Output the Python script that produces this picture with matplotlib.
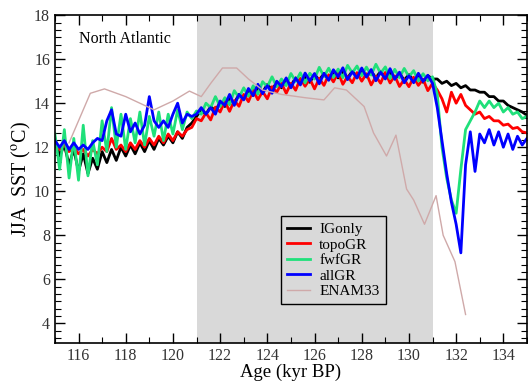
import numpy as np
import matplotlib
matplotlib.use("Agg")
import matplotlib.pyplot as plt
from matplotlib.ticker import MultipleLocator

plt.rcParams['font.family'] = ['Liberation Serif', 'DejaVu Serif']
plt.rcParams['mathtext.fontset'] = 'stix'

# model output sampled every 0.2 kyr from 115 to 135 kyr BP
age = np.round(np.arange(115.0, 135.01, 0.2), 1)

IGonly = [
    12.4, 11.6, 12.1, 11.2, 11.9, 10.9, 11.7, 10.8, 11.5, 11.0,
    11.8, 11.3, 11.9, 11.4, 12.0, 11.6, 12.1, 11.7, 12.2, 11.8,
    12.3, 11.9, 12.4, 12.1, 12.5, 12.2, 12.7, 12.4, 12.9, 13.1,
    13.4, 13.7, 13.5, 13.85, 13.65, 14.05, 13.85, 14.2, 14.0, 14.4,
    14.2, 14.55, 14.35, 14.7, 14.5, 14.85, 14.6, 14.95, 14.7, 15.05,
    14.8, 15.15, 14.9, 15.2, 14.95, 15.3, 15.05, 15.35, 15.1, 15.4,
    15.15, 15.45, 15.15, 15.45, 15.2, 15.5, 15.2, 15.45, 15.15, 15.45,
    15.15, 15.4, 15.1, 15.35, 15.05, 15.3, 15.0, 15.3, 14.95, 15.25,
    15.1,
    15.1, 14.9, 15.0, 14.8, 14.9, 14.7, 14.8, 14.6, 14.6, 14.5,
    14.5, 14.3, 14.3, 14.1, 14.1, 13.9, 13.8, 13.7, 13.6, 13.45,
]

topoGR = [
    12.2, 11.9, 12.1, 11.8, 12.0, 11.7, 11.9, 11.6, 11.9, 11.7,
    12.0, 11.8, 12.4, 11.9, 12.1, 11.8, 12.2, 11.9, 12.3, 12.0,
    12.4, 12.1, 12.5, 12.2, 12.6, 12.3, 12.7, 12.5, 12.8, 12.9,
    13.3, 13.2, 13.56, 13.24, 13.82, 13.6, 14.09, 13.63, 14.12, 13.86,
    14.4, 14.07, 14.59, 14.16, 14.53, 14.2, 14.75, 14.5, 14.9, 14.45,
    14.9, 14.59, 15.13, 14.77, 15.11, 14.65, 15.13, 14.81, 15.29, 14.97,
    15.4, 14.86, 15.22, 14.93, 15.39, 15.0, 15.34, 14.83, 15.22, 14.91,
    15.4, 14.92, 15.24, 14.76, 15.08, 14.75, 15.18, 14.81, 15.09, 14.57,
    14.9,
    14.6, 14.2, 13.6, 14.5, 14.0, 14.4, 13.9, 13.7, 13.5, 13.6,
    13.3, 13.4, 13.2, 13.2, 13.0, 13.05, 12.85, 12.9, 12.7, 12.65,
]

fwfGR = [
    12.6, 11.0, 12.8, 10.6, 12.4, 10.5, 13.0, 10.7, 12.3, 11.2,
    13.2, 11.8, 13.8, 12.0, 13.5, 11.9, 13.3, 12.2, 13.6, 12.1,
    13.4, 12.5, 13.6, 12.3, 13.5, 12.6, 13.7, 12.8, 13.6, 13.3,
    13.65, 13.5, 14.0, 13.8, 14.3, 13.85, 14.25, 13.93, 14.57, 14.26,
    14.7, 14.32, 14.79, 14.41, 14.98, 14.75, 15.2, 14.75, 15.1, 14.8,
    15.35, 14.99, 15.38, 14.92, 15.36, 15.1, 15.63, 15.21, 15.59, 15.17,
    15.55, 15.16, 15.72, 15.38, 15.69, 15.25, 15.64, 15.28, 15.77, 15.36,
    15.65, 15.12, 15.54, 15.16, 15.58, 15.2, 15.48, 15.01, 15.34, 15.02,
    15.2,
    14.4, 12.0, 10.6, 9.6, 9.0, 11.0, 12.8, 13.2, 13.6, 14.1,
    13.8, 14.1, 13.8, 14.0, 13.6, 13.8, 13.5, 13.6, 13.3, 13.4,
]

allGR = [
    12.3, 12.0, 12.3, 11.9, 12.2, 11.9, 12.1, 11.9, 12.2, 12.4,
    12.3, 13.2, 13.7, 12.6, 12.5, 13.5, 12.7, 13.1, 12.6, 13.0,
    14.3, 13.2, 12.9, 13.2, 12.9, 13.5, 14.0, 13.1, 13.5, 13.4,
    13.5, 13.8, 13.5, 13.8, 13.5, 14.1, 13.9, 14.4, 13.9, 14.4,
    14.15, 14.67, 14.34, 14.86, 14.43, 14.8, 14.45, 15.0, 14.75, 15.15,
    14.7, 15.14, 14.83, 15.37, 15.01, 15.35, 14.88, 15.36, 15.04, 15.52,
    15.2, 15.61, 15.07, 15.43, 15.14, 15.6, 15.19, 15.53, 15.02, 15.41,
    15.1, 15.57, 15.09, 15.41, 14.93, 15.25, 14.93, 15.36, 14.99, 15.27,
    14.9,
    13.8, 12.3, 10.8, 9.5, 8.5, 7.2, 11.2, 12.7, 10.9, 12.6,
    12.2, 12.8, 12.1, 12.7, 12.0, 12.6, 11.9, 12.5, 12.1, 12.4,
]

# ENAM33 proxy record
enam_age = [115.6, 116.5, 117.1, 118.0, 118.8, 119.2, 120.0, 120.7, 121.2, 121.6,
            122.1, 122.7, 123.2, 123.8, 124.6, 125.6, 126.4, 126.85, 127.35, 128.1,
            128.5, 129.05, 129.45, 129.9, 130.2, 130.66, 131.15, 131.45, 131.95, 132.4]
enam_sst = [12.2, 14.45, 14.65, 14.3, 13.9, 13.7, 14.1, 14.55, 14.3, 14.9,
            15.6, 15.6, 15.1, 14.6, 14.4, 14.25, 14.15, 14.7, 14.6, 13.85,
            12.65, 11.6, 12.55, 10.1, 9.6, 8.5, 9.8, 8.0, 6.8, 4.4]

fig = plt.figure(figsize=(5.28, 3.89), dpi=100)
ax = fig.add_axes([0.104, 0.118, 0.894, 0.843])

ax.axvspan(121, 131, color='#d9d9d9', lw=0, zorder=0)

ax.plot(age, IGonly, color='black', lw=2.0, label='IGonly')
ax.plot(age, topoGR, color='#ff0000', lw=2.0, label='topoGR')
ax.plot(age, fwfGR, color='#1fe07a', lw=2.0, label='fwfGR')
ax.plot(age, allGR, color='#0000ff', lw=2.0, label='allGR')
ax.plot(enam_age, enam_sst, color='#cfa9a9', lw=1.0, label='ENAM33')

ax.set_xlim(115, 135)
ax.set_ylim(3.1, 18)
ax.xaxis.set_major_locator(MultipleLocator(2))
ax.xaxis.set_minor_locator(MultipleLocator(1))
ax.yaxis.set_major_locator(MultipleLocator(2))
ax.yaxis.set_minor_locator(MultipleLocator(1 / 3))
ax.tick_params(which='both', direction='in', top=True, right=True,
               labelsize=11.5, labelcolor='#333333')
ax.tick_params(which='major', length=7, width=1)
ax.tick_params(which='minor', length=4, width=0.8)
for s in ax.spines.values():
    s.set_linewidth(1.2)

ax.set_xlabel('Age (kyr BP)', fontsize=13.5, labelpad=0)
ax.set_ylabel('JJA  SST ($^{\\rm o}$C)', fontsize=14.5, labelpad=1)
ax.text(0.05, 0.915, 'North Atlantic', transform=ax.transAxes, fontsize=11.5)

leg = ax.legend(loc='lower left', bbox_to_anchor=(0.463, 0.095), fontsize=11,
                frameon=True, fancybox=False, framealpha=1, facecolor='none',
                edgecolor='black', handlelength=1.5, labelspacing=0.12,
                borderpad=0.4, handletextpad=0.6)
leg.get_frame().set_linewidth(1.0)

fig.savefig('out.png', dpi=100)
